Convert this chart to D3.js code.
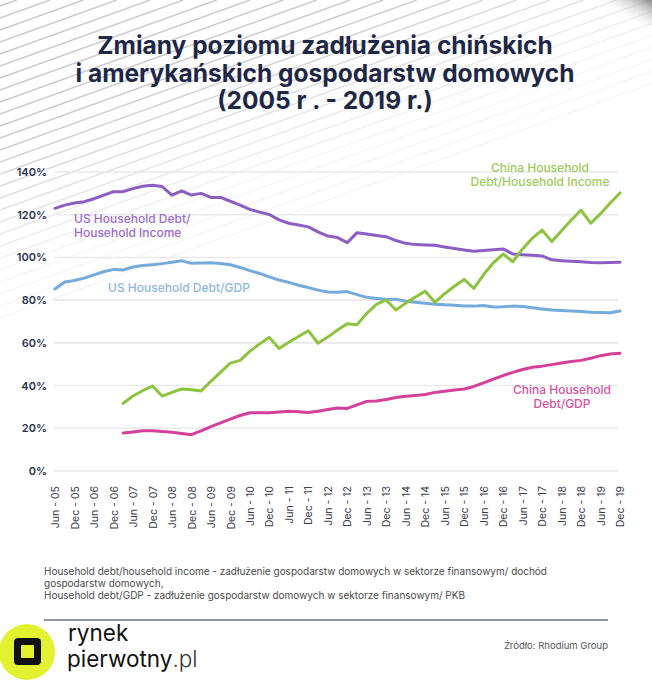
<!DOCTYPE html>
<html><head><meta charset="utf-8">
<script src="https://cdn.jsdelivr.net/npm/d3@7"></script>
<style>html,body{margin:0;padding:0;background:#fff;} svg{display:block;}</style>
</head><body><svg id="c" width="652" height="680"></svg>
<script>
// ---- DATA (quarterly, Jun-05 .. Dec-19) ----
const tickLabels = ["Jun - 05","Dec - 05","Jun - 06","Dec - 06","Jun - 07","Dec - 07","Jun - 08","Dec - 08","Jun - 09","Dec - 09",
  "Jun - 10","Dec - 10","Jun - 11","Dec - 11","Jun - 12","Dec - 12","Jun - 13","Dec - 13","Jun - 14","Dec - 14",
  "Jun - 15","Dec - 15","Jun - 16","Dec - 16","Jun - 17","Dec - 17","Jun - 18","Dec - 18","Jun - 19","Dec - 19"];
const yTicks = [0,20,40,60,80,100,120,140];
const usDebtIncome = [123.0,124.5,125.5,126.1,127.5,129.2,130.8,130.8,132.2,133.3,
  133.8,133.2,129.2,131.2,129.2,130.0,128.1,128.1,126.3,124.5,
  122.5,121.2,120.1,117.6,116.0,115.2,114.3,112.0,110.0,109.3,
  106.9,111.6,111.0,110.3,109.7,107.9,106.6,106.0,105.8,105.7,
  104.9,104.2,103.5,102.9,103.2,103.6,104.0,101.6,101.3,101.0,
  100.7,98.9,98.5,98.2,98.0,97.6,97.5,97.6,97.8];
const usDebtGdp = [85.2,88.5,89.2,90.3,91.8,93.3,94.4,94.1,95.5,96.2,
  96.6,97.1,97.7,98.4,97.3,97.4,97.5,97.2,96.6,95.3,
  93.8,92.5,90.9,89.4,88.3,87.0,85.9,84.7,83.8,83.7,
  84.0,82.6,81.3,80.8,80.4,80.4,79.5,79.0,78.5,78.1,
  77.9,77.6,77.3,77.2,77.5,76.8,76.9,77.2,77.0,76.4,
  75.9,75.4,75.1,74.9,74.7,74.3,74.2,74.1,74.9];
const chinaDebtIncome = [null,null,null,null,null,null,null,31.7,35.1,37.6,
  39.8,35.1,36.8,38.4,38.0,37.5,42.0,46.3,50.5,51.8,
  56.0,59.5,62.6,57.4,60.3,63.0,65.7,59.8,62.7,66.0,
  69.0,68.5,73.8,78.0,80.1,75.4,78.6,81.5,84.2,79.0,
  83.0,86.5,89.7,85.5,92.0,97.5,101.6,98.0,104.0,109.0,
  112.8,107.4,112.5,117.5,122.2,116.0,120.5,125.5,130.2];
const chinaDebtGdp = [null,null,null,null,null,null,null,17.8,18.3,18.8,
  18.9,18.5,18.1,17.6,17.0,18.8,20.8,22.5,24.3,26.0,
  27.3,27.3,27.3,27.6,28.0,27.7,27.4,28.0,28.8,29.5,
  29.3,31.0,32.6,32.8,33.5,34.4,35.0,35.4,35.8,36.8,
  37.3,37.9,38.4,39.6,41.3,43.0,44.7,46.2,47.5,48.6,
  49.1,49.8,50.6,51.3,51.8,52.8,54.0,54.8,55.1];
const titleLines = ["Zmiany poziomu zadłużenia chińskich","i amerykańskich gospodarstw domowych","(2005 r . - 2019 r.)"];
const footLines = ["Household debt/household income - zadłużenie gospodarstw domowych w sektorze finansowym/ dochód",
  "gospodarstw domowych,",
  "Household debt/GDP - zadłużenie gospodarstw domowych w sektorze finansowym/ PKB"];

const FONT = "Inter, 'Open Sans', sans-serif";
const svg = d3.select("#c");
const defs = svg.append("defs");

// ---- decorative background stripes (fade with distance from top-left) ----
const stripes = svg.append("g");
const slope = 0.36;
for (let c = 6; c < 320; c += 12) {
  const op = c < 140 ? 0.85 : Math.max(0.12, 0.85 - (c - 140) / 190);
  stripes.append("path").attr("d", `M0,${c} L${c/slope},0`)
    .attr("stroke","#c0c0c7").attr("stroke-width",1.4).attr("stroke-opacity",op).attr("fill","none");
}

// corner shade
const cg = defs.append("linearGradient").attr("id","corner").attr("x1",1).attr("y1",0).attr("x2",0.4).attr("y2",0.6);
cg.append("stop").attr("offset",0).attr("stop-color","#8a8a8a");
cg.append("stop").attr("offset",1).attr("stop-color","#fff").attr("stop-opacity",0);
svg.append("polygon").attr("points","600,0 652,0 652,30").attr("fill","url(#corner)");

// ---- title ----
svg.append("g").selectAll("text").data(titleLines).join("text")
  .attr("x",325).attr("y",(d,i)=>54+i*27.5).attr("text-anchor","middle")
  .attr("font-family",FONT).attr("font-weight",700).attr("font-size",24.5)
  .attr("fill","#1f2747").text(d=>d);

// ---- scales ----
const x = d3.scaleLinear().domain([0, usDebtIncome.length-1]).range([55, 620]);
const y = d3.scaleLinear().domain([0,140]).range([471,172]);

// gridlines
svg.append("g").selectAll("line").data(yTicks).join("line")
  .attr("x1",54).attr("x2",618).attr("y1",d=>y(d)).attr("y2",d=>y(d))
  .attr("stroke","#e9e9ec").attr("stroke-width",1.6);

// y axis
const yAxis = svg.append("g").attr("transform","translate(47,0)")
  .call(d3.axisLeft(y).tickValues(yTicks).tickSize(0).tickPadding(0).tickFormat(d=>d+"%"));
yAxis.select(".domain").remove();
yAxis.selectAll("text").attr("font-family",FONT).attr("font-size",11).attr("font-weight",600).attr("fill","#2c3352");

// x axis
const xAxis = svg.append("g").attr("transform","translate(0,486)")
  .call(d3.axisBottom(x).tickValues(d3.range(0, usDebtIncome.length, 2)).tickSize(0)
    .tickFormat((d,i)=>tickLabels[i]));
xAxis.select(".domain").remove();
xAxis.selectAll("text").attr("transform","rotate(-90)").attr("text-anchor","end")
  .attr("x",0).attr("y",0).attr("dy","0.35em")
  .attr("font-family",FONT).attr("font-size",10.5).attr("fill","#3b4050");

// lines
const series = [
  {data: usDebtIncome, color:"#8c5ec3"},
  {data: usDebtGdp, color:"#75abdc"},
  {data: chinaDebtGdp, color:"#d4409a"},
  {data: chinaDebtIncome, color:"#8dc43f"}
];
const line = d3.line().defined(d=>d!=null).x((d,i)=>x(i)).y(d=>y(d));
svg.append("g").selectAll("path").data(series).join("path")
  .attr("d",s=>line(s.data)).attr("fill","none").attr("stroke",s=>s.color)
  .attr("stroke-width",3).attr("stroke-linejoin","round").attr("stroke-linecap","round");

// annotations
const notes = [
  {t:["US Household Debt/","Household Income"], x:74, y:223, a:"start", c:"#9a6ccd"},
  {t:["US Household Debt/GDP"], x:108, y:292, a:"start", c:"#8db7e0"},
  {t:["China Household","Debt/Household Income"], x:540, y:172, a:"middle", c:"#9ccb5a"},
  {t:["China Household","Debt/GDP"], x:562, y:394, a:"middle", c:"#d8519f"}
];
notes.forEach(n=>{
  svg.append("g").selectAll("text").data(n.t).join("text")
    .attr("x",n.x).attr("y",(d,i)=>n.y+i*14).attr("text-anchor",n.a)
    .attr("font-family",FONT).attr("font-size",12).attr("font-weight",500)
    .attr("fill",n.c).text(d=>d);
});

// footnotes
svg.append("g").selectAll("text").data(footLines).join("text")
  .attr("x",44).attr("y",(d,i)=>575+i*12).attr("font-family",FONT).attr("font-size",10)
  .attr("fill","#4a4a4a").text(d=>d);
svg.append("line").attr("x1",44).attr("x2",608).attr("y1",620).attr("y2",620)
  .attr("stroke","#6c7087").attr("stroke-width",1.5);

// logo
svg.append("circle").attr("cx",27).attr("cy",652).attr("r",28).attr("fill","#e2f230");
svg.append("rect").attr("x",14).attr("y",638).attr("width",27).attr("height",27).attr("rx",4).attr("fill","#111");
svg.append("rect").attr("x",21).attr("y",645).attr("width",13).attr("height",13).attr("rx",1).attr("fill","#e2f230");
svg.append("text").attr("x",68).attr("y",641).attr("font-family",FONT).attr("font-size",22.5)
  .attr("fill","#111").text("rynek");
const t2 = svg.append("text").attr("x",67).attr("y",667).attr("font-family",FONT).attr("font-size",22.5).attr("fill","#111");
t2.append("tspan").text("pierwotny");
t2.append("tspan").attr("fill","#333").attr("font-weight",300).text(".pl");
svg.append("text").attr("x",608).attr("y",649).attr("text-anchor","end").attr("font-family",FONT)
  .attr("font-size",9.5).attr("fill","#555").text("Źródło: Rhodium Group");
</script></body></html>
